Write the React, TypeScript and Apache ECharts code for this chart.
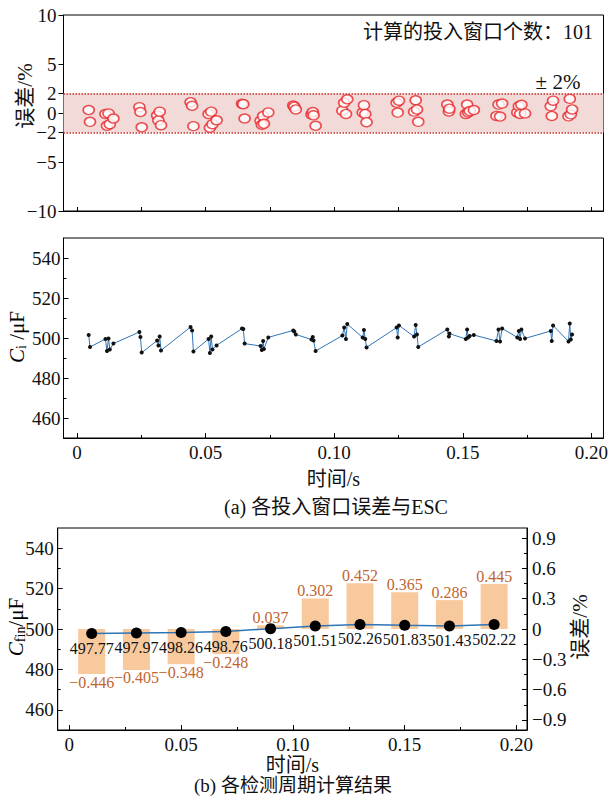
import React, { useEffect, useRef } from "react";
import * as echarts from "echarts";

// ---------- data ----------
const tWin = [0.0046,0.0051,0.0111,0.0117,0.0123,0.0128,0.0142,0.0243,0.0247,0.0252,0.0312,0.0317,0.0322,0.0327,0.0442,0.0448,0.0453,0.0512,0.0517,0.0522,0.0527,0.0543,0.0642,0.0647,0.0652,0.0714,0.0719,0.0724,0.0727,0.0744,0.0841,0.0845,0.0851,0.0912,0.0917,0.0920,0.0928,0.1032,0.1039,0.1046,0.1051,0.1111,0.1116,0.1121,0.1126,0.1243,0.1247,0.1252,0.1311,0.1317,0.1322,0.1327,0.1440,0.1446,0.1448,0.1512,0.1517,0.1521,0.1527,0.1543,0.1631,0.1639,0.1645,0.1653,0.1712,0.1718,0.1723,0.1728,0.1742,0.1842,0.1846,0.1851,0.1911,0.1916,0.1920,0.1925];
const capWin = [501.5,495.5,499.5,493.5,499.8,494.3,497.2,503.0,500.5,492.7,498.7,496.2,500.7,493.8,505.5,503.7,493.3,499.5,492.5,500.7,494.3,496.3,504.7,504.5,497.2,496.0,494.0,498.5,494.5,500.3,503.8,503.2,501.8,499.2,500.5,498.8,493.5,501.2,505.2,499.5,507.0,500.2,504.0,499.5,495.3,505.2,500.2,506.3,500.7,506.5,501.8,495.5,504.3,500.8,502.2,499.5,504.3,500.3,501.0,501.5,498.5,504.3,498.2,504.8,500.3,503.5,499.5,504.2,499.8,503.5,498.5,506.3,498.3,507.2,499.3,501.8];
const errWin = [0.30,-0.90,-0.10,-1.30,-0.04,-1.14,-0.56,0.60,0.10,-1.46,-0.26,-0.76,0.14,-1.24,1.10,0.74,-1.34,-0.10,-1.50,0.14,-1.14,-0.74,0.94,0.90,-0.56,-0.80,-1.20,-0.30,-1.10,0.06,0.76,0.64,0.36,-0.16,0.10,-0.24,-1.30,0.24,1.04,-0.10,1.40,0.04,0.80,-0.10,-0.94,1.04,0.04,1.26,0.14,1.30,0.36,-0.90,0.86,0.16,0.44,-0.10,0.86,0.06,0.20,0.30,-0.30,0.86,-0.36,0.96,0.06,0.70,-0.10,0.84,-0.04,0.70,-0.30,1.26,-0.34,1.44,-0.14,0.36];

const periodT = [0.01,0.03,0.05,0.07,0.09,0.11,0.13,0.15,0.17,0.19];
const cFin = [497.77,497.97,498.26,498.76,500.18,501.51,502.26,501.83,501.43,502.22];
const errFin = [-0.446,-0.405,-0.348,-0.248,0.037,0.302,0.452,0.365,0.286,0.445];

const errTicks = [-10,-5,-2,0,2,5,10];
const timeTicksFine = [0,0.025,0.05,0.075,0.1,0.125,0.15,0.175,0.2];
const timeTicksMajor = [0,0.05,0.1,0.15,0.2];
const timeTicksMinor = [0.025,0.075,0.125,0.175];
const capTicksMajor = [460,480,500,520,540];
const capTicksMinor = [470,490,510,530];
const pctTicksMajor = [-0.9,-0.6,-0.3,0,0.3,0.6,0.9];
const pctTicksMinor = [-0.75,-0.45,-0.15,0.15,0.45,0.75];
const bandLimit = 2;
const windowCount = 101;

// ---------- styles ----------
const FONT = "'Liberation Serif', 'Noto Sans CJK SC', serif";
const X_MIN = -0.0052;
const X_MAX = 0.2047;
const BLUE = "#2E75B6";
const BAR = "#F8C99D";
const BAR_LABEL = "#C0652F";
const RED = "#E8262B";
const TICK_FS = 19;

const minus = (v: number | string) => String(v).replace("-", "\u2212");
const fmtTime = (v: number) => (v === 0 ? "0" : v.toFixed(2));

const baseAxisLine = { show: true, onZero: false, lineStyle: { color: "#000", width: 1 } };
const hiddenAxisLine = { show: false, onZero: false };

function xMain(gridIndex: number, showLabels: boolean, nameGap: number) {
  return {
    type: "value",
    gridIndex,
    min: X_MIN,
    max: X_MAX,
    position: "bottom",
    splitLine: { show: false },
    axisLine: baseAxisLine,
    axisTick: showLabels
      ? { show: true, inside: true, length: 5, customValues: timeTicksMajor, lineStyle: { color: "#000" } }
      : { show: true, inside: true, length: 4, customValues: timeTicksFine, lineStyle: { color: "#000" } },
    axisLabel: showLabels
      ? { show: true, customValues: timeTicksMajor, formatter: fmtTime, fontSize: TICK_FS, color: "#111", margin: 5, fontFamily: FONT }
      : { show: false },
    name: showLabels ? "时间/s" : "",
    nameLocation: "middle",
    nameGap,
    nameTextStyle: { fontSize: 20, color: "#111", fontFamily: FONT },
  };
}

function xMinor(gridIndex: number) {
  return {
    type: "value",
    gridIndex,
    min: X_MIN,
    max: X_MAX,
    position: "bottom",
    splitLine: { show: false },
    axisLine: hiddenAxisLine,
    axisTick: { show: true, inside: true, length: 3, customValues: timeTicksMinor, lineStyle: { color: "#000" } },
    axisLabel: { show: false },
  };
}

function yCap(gridIndex: number, margin: number) {
  return {
    type: "value",
    gridIndex,
    min: 450,
    max: 550,
    position: "left",
    splitLine: { show: false },
    axisLine: baseAxisLine,
    axisTick: { show: true, inside: true, length: 5, customValues: capTicksMajor, lineStyle: { color: "#000" } },
    axisLabel: { show: true, customValues: capTicksMajor, fontSize: TICK_FS, color: "#111", margin, fontFamily: FONT },
  };
}

function yCapMinor(gridIndex: number) {
  return {
    type: "value",
    gridIndex,
    min: 450,
    max: 550,
    position: "left",
    splitLine: { show: false },
    axisLine: hiddenAxisLine,
    axisTick: { show: true, inside: true, length: 3, customValues: capTicksMinor, lineStyle: { color: "#000" } },
    axisLabel: { show: false },
  };
}

export default function App() {
  const ref = useRef<HTMLDivElement>(null);

  useEffect(() => {
    if (!ref.current) return;
    const chart = echarts.init(ref.current, undefined, { renderer: "svg" });

    const richName = {
      it: { fontStyle: "italic", fontSize: 21, fontFamily: FONT, color: "#111" },
      sub: { fontSize: 14, fontFamily: FONT, color: "#111", verticalAlign: "bottom", padding: [9, 0, 0, 0] },
      n: { fontSize: 21, fontFamily: FONT, color: "#111" },
    };

    const option: any = {
      animation: false,
      textStyle: { fontFamily: FONT },
      grid: [
        { left: 63.5, right: 7.5, top: 15, height: 196, show: true, borderColor: "#000", borderWidth: 1, backgroundColor: "transparent" },
        { left: 63.5, right: 7.5, top: 238, height: 200, show: true, borderColor: "#000", borderWidth: 1, backgroundColor: "transparent" },
        { left: 57.7, right: 84, top: 528, height: 202, show: true, borderColor: "#000", borderWidth: 1, backgroundColor: "transparent" },
      ],
      xAxis: [
        xMain(0, false, 0),
        xMain(1, true, 31),
        xMinor(1),
        xMain(2, true, 21),
        xMinor(2),
      ],
      yAxis: [
        {
          type: "value",
          gridIndex: 0,
          min: -10,
          max: 10,
          position: "left",
          splitLine: { show: false },
          axisLine: baseAxisLine,
          axisTick: { show: true, inside: false, length: 5, customValues: errTicks, lineStyle: { color: "#000" } },
          axisLabel: { show: true, customValues: errTicks, formatter: minus, fontSize: TICK_FS, color: "#111", margin: 7, fontFamily: FONT },
        },
        yCap(1, 3),
        yCapMinor(1),
        yCap(2, 4),
        yCapMinor(2),
        {
          type: "value",
          gridIndex: 2,
          min: -1,
          max: 1,
          position: "right",
          splitLine: { show: false },
          axisLine: baseAxisLine,
          axisTick: { show: true, inside: true, length: 5, customValues: pctTicksMajor, lineStyle: { color: "#000" } },
          axisLabel: { show: true, customValues: pctTicksMajor, formatter: minus, fontSize: TICK_FS, color: "#111", margin: 5, fontFamily: FONT },
        },
        {
          type: "value",
          gridIndex: 2,
          min: -1,
          max: 1,
          position: "right",
          splitLine: { show: false },
          axisLine: hiddenAxisLine,
          axisTick: { show: true, inside: true, length: 3, customValues: pctTicksMinor, lineStyle: { color: "#000" } },
          axisLabel: { show: false },
        },
      ],
      series: [
        {
          type: "scatter",
          xAxisIndex: 0,
          yAxisIndex: 0,
          data: tWin.map((t, i) => [t, errWin[i]]),
          symbol: "circle",
          symbolSize: [11, 9],
          itemStyle: { color: "#fff", borderColor: RED, borderWidth: 1.5 },
          z: 5,
          markArea: {
            silent: true,
            itemStyle: { color: "#F1DAD8" },
            data: [[{ yAxis: -bandLimit }, { yAxis: bandLimit }]],
          },
          markLine: {
            silent: true,
            symbol: "none",
            label: { show: false },
            lineStyle: { color: "#C62F2B", type: "dotted", width: 1.5 },
            data: [{ yAxis: bandLimit }, { yAxis: -bandLimit }],
          },
        },
        {
          type: "line",
          xAxisIndex: 1,
          yAxisIndex: 1,
          data: tWin.map((t, i) => [t, capWin[i]]),
          symbol: "circle",
          symbolSize: 4,
          itemStyle: { color: "#111" },
          lineStyle: { color: BLUE, width: 1 },
        },
        {
          type: "bar",
          xAxisIndex: 3,
          yAxisIndex: 5,
          barWidth: 27,
          itemStyle: { color: BAR },
          data: periodT.map((t, i) => ({
            value: [t, errFin[i]],
            label: { position: errFin[i] >= 0 ? "top" : "bottom" },
          })),
          label: {
            show: true,
            distance: 0,
            color: BAR_LABEL,
            fontSize: 16,
            fontFamily: FONT,
            formatter: (p: any) => minus(p.value[1].toFixed(3)),
          },
        },
        {
          type: "line",
          xAxisIndex: 3,
          yAxisIndex: 3,
          data: periodT.map((t, i) => [t, cFin[i]]),
          symbol: "circle",
          symbolSize: 11,
          itemStyle: { color: "#000" },
          lineStyle: { color: BLUE, width: 1.5 },
          label: {
            show: true,
            position: "bottom",
            distance: 1,
            color: "#111",
            fontSize: 16,
            fontFamily: FONT,
            formatter: (p: any) => p.value[1].toFixed(2),
          },
          z: 4,
        },
      ],
      graphic: [
        {
          type: "text",
          x: 593,
          y: 32,
          style: { text: `计算的投入窗口个数：${windowCount}`, font: `20px ${FONT}`, fill: "#111", align: "right", verticalAlign: "middle" },
        },
        {
          type: "text",
          x: 558,
          y: 82,
          style: { text: `± ${bandLimit}%`, font: `21px ${FONT}`, fill: "#111", align: "center", verticalAlign: "middle" },
        },
        {
          type: "text",
          x: 25,
          y: 96,
          rotation: Math.PI / 2,
          style: { text: "误差/%", font: `21px ${FONT}`, fill: "#111", align: "center", verticalAlign: "middle" },
        },
        {
          type: "text",
          x: 17,
          y: 337,
          rotation: Math.PI / 2,
          style: { text: "{it|C}{sub|i}{n| /μF}", rich: richName, align: "center", verticalAlign: "middle" },
        },
        {
          type: "text",
          x: 16,
          y: 627,
          rotation: Math.PI / 2,
          style: { text: "{it|C}{sub|fin}{n|/μF}", rich: richName, align: "center", verticalAlign: "middle" },
        },
        {
          type: "text",
          x: 580,
          y: 627,
          rotation: Math.PI / 2,
          style: { text: "误差/%", font: `21px ${FONT}`, fill: "#111", align: "center", verticalAlign: "middle" },
        },
        {
          type: "text",
          x: 336,
          y: 507,
          style: { text: "(a) 各投入窗口误差与ESC", font: `20px ${FONT}`, fill: "#111", align: "center", verticalAlign: "middle" },
        },
        {
          type: "text",
          x: 293,
          y: 785,
          style: { text: "(b) 各检测周期计算结果", font: `19px ${FONT}`, fill: "#111", align: "center", verticalAlign: "middle" },
        },
      ],
    };

    chart.setOption(option);
    return () => chart.dispose();
  }, []);

  return (
    <div
      ref={ref}
      style={{ position: "fixed", left: 0, top: 0, width: 611, height: 796, background: "#fff" }}
    />
  );
}
